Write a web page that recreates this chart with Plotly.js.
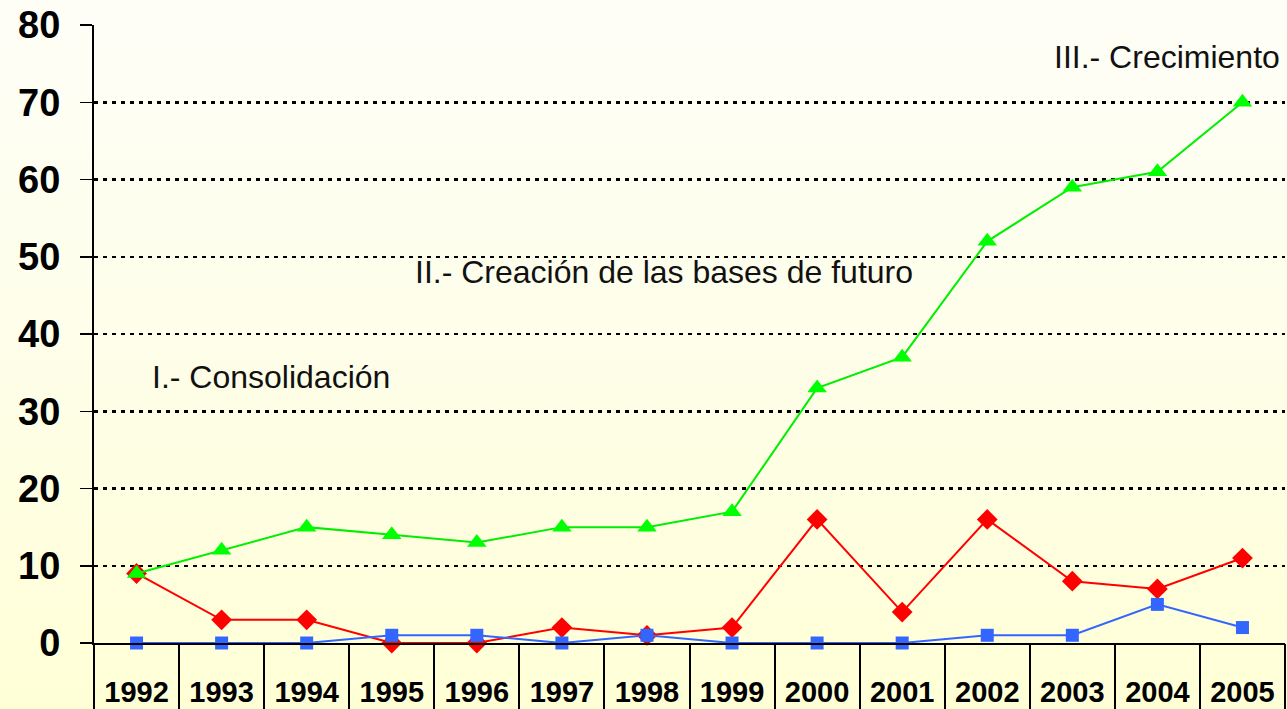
<!DOCTYPE html>
<html>
<head>
<meta charset="utf-8">
<script src="https://cdn.plot.ly/plotly-3.0.1.min.js"></script>
<style>
html,body{margin:0;padding:0;}
#chart{width:1287px;height:709px;background:linear-gradient(to bottom,#fefef7 0%,#fefee9 50%,#ffffd6 100%);}
</style>
</head>
<body>
<div id="chart"></div>
<script>
const years = ["1992","1993","1994","1995","1996","1997","1998","1999","2000","2001","2002","2003","2004","2005"];
const greenValues = [9,12,15,14,13,15,15,17,33,37,52,59,61,70];
const redValues   = [9,3,3,0,0,2,1,2,16,4,16,8,7,11];
const blueValues  = [0,0,0,1,1,0,1,0,0,0,1,1,5,2];
const yTicks = [0,10,20,30,40,50,60,70,80];
const phaseLabels = ["I.- Consolidación","II.- Creación de las bases de futuro","III.- Crecimiento"];

const font = "Liberation Sans, Arial, sans-serif";

const traces = [
  {x: years, y: redValues, type: 'scatter', mode: 'lines+markers', cliponaxis: false,
   line: {color: '#ff0000', width: 2}, marker: {symbol: 'diamond', size: 16, color: '#ff0000'}},
  {x: years, y: blueValues, type: 'scatter', mode: 'lines+markers', cliponaxis: false,
   line: {color: '#3366ff', width: 2}, marker: {symbol: 'square', size: 13, color: '#3366ff'}},
  {x: years, y: greenValues, type: 'scatter', mode: 'lines+markers', cliponaxis: false,
   line: {color: '#00ee00', width: 2}, marker: {symbol: 'triangle-up', size: 17, color: '#00ff00'}}
];

const boundaries = years.map((_, i) => i - 0.5).concat([years.length - 0.5]);

const layout = {
  width: 1287, height: 709,
  margin: {l: 94, r: 2, t: 25, b: 66},
  paper_bgcolor: 'rgba(0,0,0,0)',
  plot_bgcolor: 'rgba(0,0,0,0)',
  showlegend: false,
  xaxis: {
    type: 'category', categoryarray: years, range: [-0.5, years.length - 0.5],
    showline: true, linecolor: '#000', linewidth: 2,
    ticks: '', showgrid: false, zeroline: false,
    tickfont: {family: font, size: 29, color: '#000', weight: 'bold'},
    ticklabelstandoff: 22
  },
  xaxis2: {
    overlaying: 'x', anchor: 'y', side: 'bottom',
    range: [-0.5, years.length - 0.5],
    tickmode: 'array', tickvals: boundaries,
    ticks: 'outside', ticklen: 66, tickwidth: 2, tickcolor: '#000',
    showticklabels: false, showgrid: false, zeroline: false, showline: false
  },
  yaxis: {
    range: [0, 80], tickmode: 'array', tickvals: yTicks,
    showline: true, linecolor: '#000', linewidth: 2,
    ticks: 'outside', ticklen: 12, tickwidth: 1.5, tickcolor: '#000',
    showgrid: true, gridcolor: '#000', gridwidth: 2.5, griddash: '4px,5px',
    zeroline: false,
    tickfont: {family: font, size: 38, color: '#000', weight: 'bold'},
    ticklabelstandoff: 12
  },
  annotations: [
    {text: phaseLabels[0], xref: 'paper', yref: 'y', x: 0.047, y: 34.4, xanchor: 'left', yanchor: 'middle', showarrow: false,
     font: {family: font, size: 32, color: '#111'}},
    {text: phaseLabels[1], xref: 'paper', yref: 'y', x: 0.268, y: 48, xanchor: 'left', yanchor: 'middle', showarrow: false,
     font: {family: font, size: 32, color: '#111'}},
    {text: phaseLabels[2], xref: 'paper', yref: 'y', x: 0.804, y: 75.9, xanchor: 'left', yanchor: 'middle', showarrow: false,
     font: {family: font, size: 32, color: '#111'}}
  ]
};

// invisible trace so xaxis2 renders its boundary ticks
traces.push({x: [0], y: [0], xaxis: 'x2', yaxis: 'y', type: 'scatter', mode: 'markers', marker: {opacity: 0}, hoverinfo: 'skip'});

Plotly.newPlot('chart', traces, layout, {displayModeBar: false, staticPlot: true});
</script>
</body>
</html>
